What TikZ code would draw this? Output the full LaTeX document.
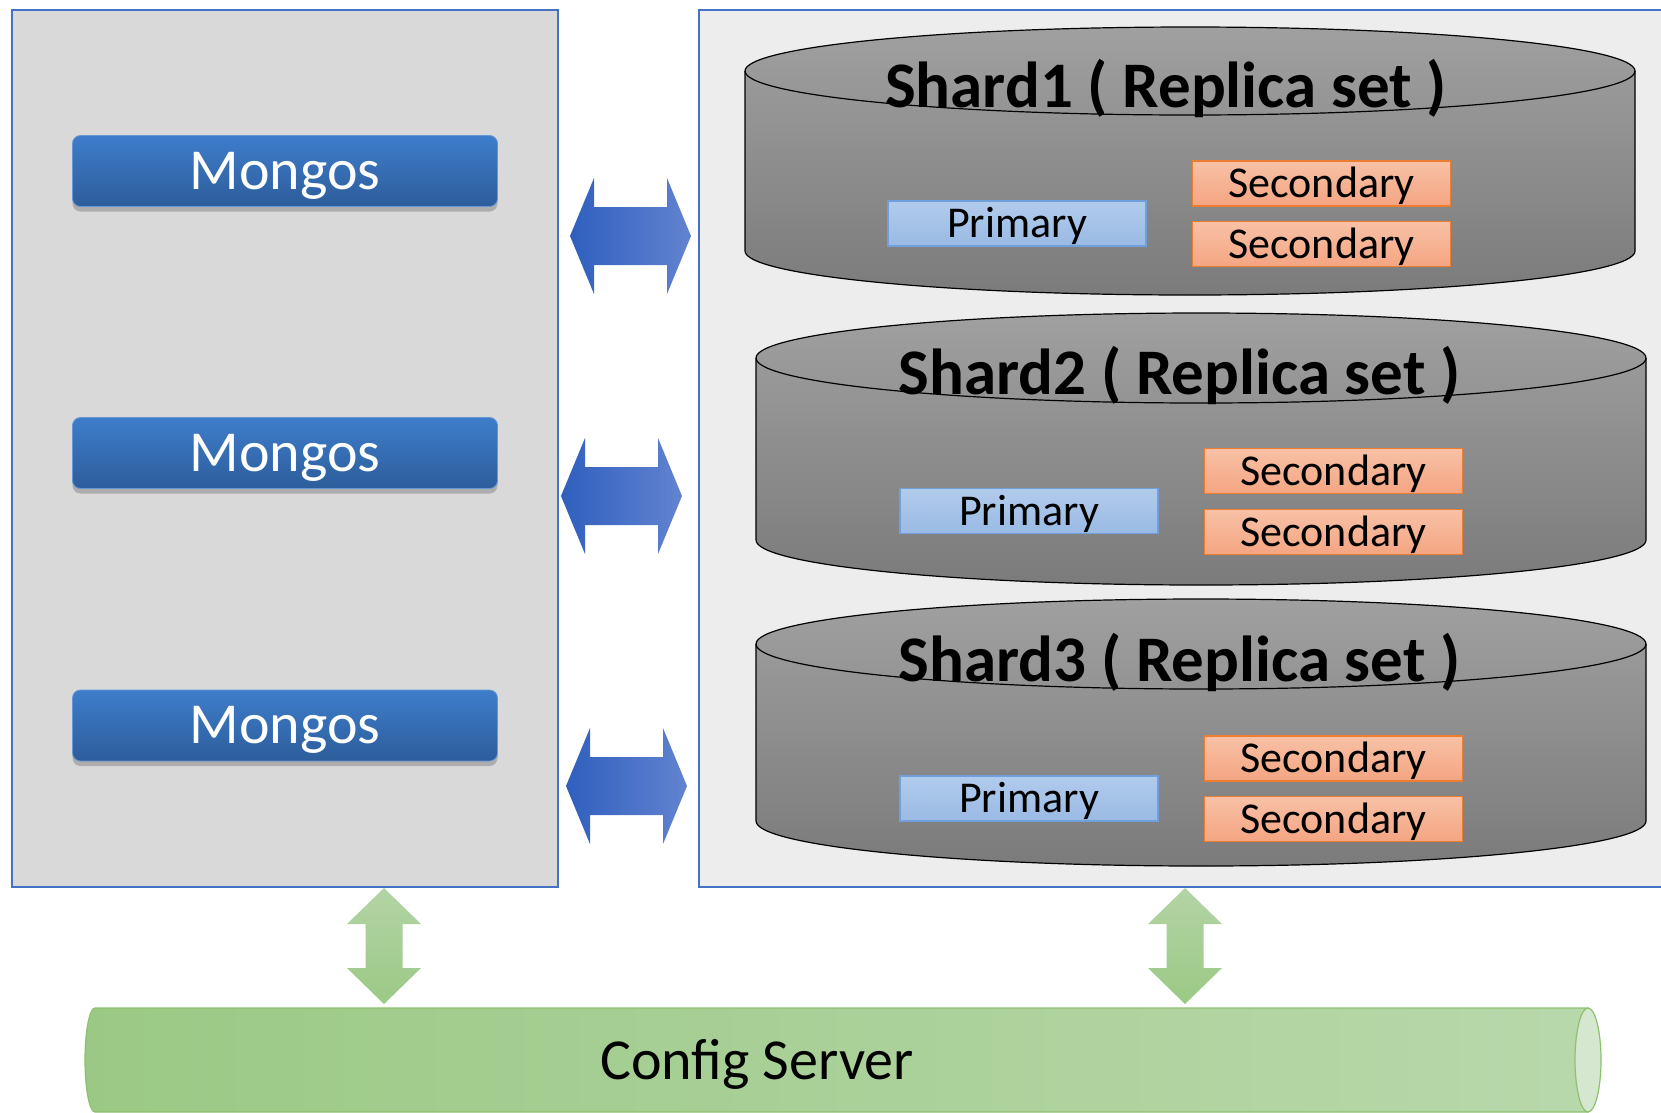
\documentclass[tikz,border=0pt]{standalone}
\usepackage{fontspec}
\setmainfont{Carlito}
\usetikzlibrary{shadows}

\definecolor{frameblue}{HTML}{4472C4}
\definecolor{routerbg}{HTML}{D9D9D9}
\definecolor{shardbg}{HTML}{EDEDED}
\definecolor{mongostop}{HTML}{3E7DCB}
\definecolor{mongosbot}{HTML}{2D5D9B}
\definecolor{linkleft}{HTML}{2F5FBE}
\definecolor{linkright}{HTML}{6283D0}
\definecolor{disktop}{HTML}{A0A0A0}
\definecolor{diskbot}{HTML}{7B7B7B}
\definecolor{primtop}{HTML}{B1CBEC}
\definecolor{primbot}{HTML}{9ABAE4}
\definecolor{primline}{HTML}{6FA0DC}
\definecolor{sectop}{HTML}{F8C1A6}
\definecolor{secbot}{HTML}{F4A582}
\definecolor{secline}{HTML}{ED7D31}
\definecolor{cfgtop}{HTML}{B3D4A5}
\definecolor{cfgbot}{HTML}{9BC985}
\definecolor{cfgright}{HTML}{B8D8AB}
\definecolor{cfgline}{HTML}{8DC06F}
\definecolor{cfgcap}{HTML}{D5E8CF}

\tikzset{
  mongos/.style={rectangle, rounded corners=8pt, draw=mongostop!80!white, line width=0.8pt,
    top color=mongostop, bottom color=mongosbot, text=white,
    minimum width=425pt, minimum height=71pt, inner sep=0pt,
    font=\fontsize{58}{60}\selectfont, text height=36pt, text depth=0pt,
    drop shadow={shadow xshift=0pt, shadow yshift=-5pt, fill=black!32, opacity=1}},
  primary/.style={rectangle, draw=primline, line width=1.2pt,
    top color=primtop, bottom color=primbot,
    minimum width=258pt, minimum height=45pt, inner sep=0pt,
    font=\fontsize{44}{48}\selectfont, text height=28.5pt, text depth=0pt},
  secondary/.style={primary, draw=secline, top color=sectop, bottom color=secbot},
  shardtitle/.style={anchor=base, inner sep=0pt, font=\fontsize{65}{68}\selectfont\bfseries},
  disk/.style={top color=disktop, bottom color=diskbot, draw=black, line width=1.2pt},
  bluelink/.style={left color=linkleft, right color=linkright},
  greenlink/.style={top color=cfgtop, bottom color=cfgbot}
}

\begin{document}
\begin{tikzpicture}[x=1pt,y=-1pt]
\useasboundingbox (0,0) rectangle (1661,1112);

% frames
\draw[frameblue, line width=2pt, fill=routerbg] (12,10) rectangle (558,887);
\draw[frameblue, line width=2pt, fill=shardbg] (699,10) rectangle (1670,887);

% mongos routers
\node[mongos] (mongos1) at (285,171) {Mongos};
\node[mongos] (mongos2) at (285,453) {Mongos};
\node[mongos] (mongos3) at (285,725.5) {Mongos};

% shard 1
\shade[disk] (745,71) -- (745,251) arc[start angle=180, end angle=360, x radius=445pt, y radius=44pt]
  -- (1635,71) arc[start angle=0, end angle=180, x radius=445pt, y radius=44pt] -- cycle;
\draw[line width=1.2pt] (745,71) arc[start angle=180, end angle=360, x radius=445pt, y radius=44pt];
\node[shardtitle] (shard1) at (1166,107) {Shard1 ( Replica set )};
\node[primary] (prim1) at (1017,223.5) {Primary};
\node[secondary] (sec1a) at (1321.5,183.5) {Secondary};
\node[secondary] (sec1b) at (1321.5,244) {Secondary};

% shard 2
\shade[disk] (756,358) -- (756,540) arc[start angle=180, end angle=360, x radius=445pt, y radius=45pt]
  -- (1646,358) arc[start angle=0, end angle=180, x radius=445pt, y radius=45pt] -- cycle;
\draw[line width=1.2pt] (756,358) arc[start angle=180, end angle=360, x radius=445pt, y radius=45pt];
\node[shardtitle] (shard2) at (1179.5,394.5) {Shard2 ( Replica set )};
\node[primary] (prim2) at (1029,511) {Primary};
\node[secondary] (sec2a) at (1333.5,471) {Secondary};
\node[secondary] (sec2b) at (1333.5,532) {Secondary};

% shard 3
\shade[disk] (756,644) -- (756,821) arc[start angle=180, end angle=360, x radius=445pt, y radius=45pt]
  -- (1646,644) arc[start angle=0, end angle=180, x radius=445pt, y radius=45pt] -- cycle;
\draw[line width=1.2pt] (756,644) arc[start angle=180, end angle=360, x radius=445pt, y radius=45pt];
\node[shardtitle] (shard3) at (1179.5,681.5) {Shard3 ( Replica set )};
\node[primary] (prim3) at (1029,798.5) {Primary};
\node[secondary] (sec3a) at (1333.5,758.5) {Secondary};
\node[secondary] (sec3b) at (1333.5,819) {Secondary};

% links mongos <-> shards
\shade[bluelink, shift={(630.5,236)}] (-60.5,0) -- (-36.5,-58) -- (-36.5,-29) -- (36.5,-29) -- (36.5,-58)
  -- (60.5,0) -- (36.5,58) -- (36.5,29) -- (-36.5,29) -- (-36.5,58) -- cycle;
\shade[bluelink, shift={(621.5,496)}] (-60.5,0) -- (-36.5,-58) -- (-36.5,-29) -- (36.5,-29) -- (36.5,-58)
  -- (60.5,0) -- (36.5,58) -- (36.5,29) -- (-36.5,29) -- (-36.5,58) -- cycle;
\shade[bluelink, shift={(626.5,786)}] (-60.5,0) -- (-36.5,-58) -- (-36.5,-29) -- (36.5,-29) -- (36.5,-58)
  -- (60.5,0) -- (36.5,58) -- (36.5,29) -- (-36.5,29) -- (-36.5,58) -- cycle;

% links to config server
\shade[greenlink, shift={(384,946)}] (0,-58) -- (37,-22) -- (18.5,-22) -- (18.5,22) -- (37,22)
  -- (0,58) -- (-37,22) -- (-18.5,22) -- (-18.5,-22) -- (-37,-22) -- cycle;
\shade[greenlink, shift={(1185,946)}] (0,-58) -- (37,-22) -- (18.5,-22) -- (18.5,22) -- (37,22)
  -- (0,58) -- (-37,22) -- (-18.5,22) -- (-18.5,-22) -- (-37,-22) -- cycle;

% config server
\shade[left color=cfgbot, right color=cfgright, draw=cfgline, line width=1.2pt]
  (1588,1008) -- (95,1008) arc[start angle=90, end angle=270, x radius=10pt, y radius=52pt]
  -- (1588,1112) -- cycle;
\draw[cfgline, line width=1.2pt, fill=cfgcap] (1588,1060) ellipse[x radius=13pt, y radius=52pt];
\node[font=\fontsize{58}{60}\selectfont, text height=35pt, text depth=0pt, inner sep=0pt] (config) at (757,1061.5) {Config Server};
\end{tikzpicture}
\end{document}
